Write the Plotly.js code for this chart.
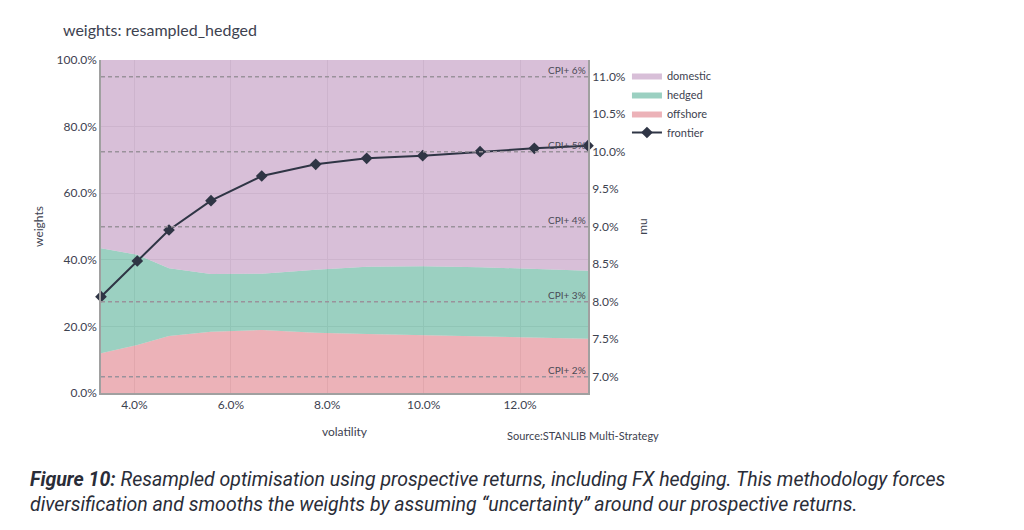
<!DOCTYPE html>
<html>
<head>
<meta charset="utf-8">
<script src="https://cdn.plot.ly/plotly-3.0.1.min.js"></script>
<style>
html,body{margin:0;padding:0;background:#fff;}
#chart{width:1024px;height:530px;}
</style>
</head>
<body>
<div id="chart"></div>
<script>
// volatility (fraction) for each frontier portfolio
const volatility = [0.03305, 0.04058, 0.04716, 0.05587, 0.0664, 0.0776, 0.08818, 0.0998, 0.1117, 0.12296, 0.1341];
// weights (fraction)
const offshore = [0.119, 0.144, 0.171, 0.184, 0.189, 0.181, 0.177, 0.174, 0.171, 0.168, 0.163];
const hedged   = [0.316, 0.271, 0.204, 0.173, 0.169, 0.189, 0.202, 0.207, 0.207, 0.204, 0.204];
const domestic = [0.565, 0.585, 0.625, 0.643, 0.642, 0.630, 0.621, 0.619, 0.622, 0.628, 0.633];
// expected return mu (fraction)
const frontier = [0.08067, 0.08543, 0.08956, 0.09347, 0.09676, 0.09832, 0.09912, 0.09947, 0.1000, 0.10045, 0.1008];
// CPI reference lines
const cpiLevels = [0.07, 0.08, 0.09, 0.10, 0.11];
const cpiLabels = ["CPI+ 2%", "CPI+ 3%", "CPI+ 4%", "CPI+ 5%", "CPI+ 6%"];
const xTicks = [0.04, 0.06, 0.08, 0.10, 0.12];

const FONT = "Lato, 'Open Sans', sans-serif";
const TXT = "#3d4250";

const traces = [
  {x: volatility, y: offshore, name: "offshore", type: "scatter", mode: "lines", stackgroup: "w",
   line: {width: 0, color: "rgba(223,127,137,0.6)"}, fillcolor: "rgba(223,127,137,0.6)", legendrank: 3},
  {x: volatility, y: hedged, name: "hedged", type: "scatter", mode: "lines", stackgroup: "w",
   line: {width: 0, color: "rgba(88,177,152,0.6)"}, fillcolor: "rgba(88,177,152,0.6)", legendrank: 2},
  {x: volatility, y: domestic, name: "domestic", type: "scatter", mode: "lines", stackgroup: "w",
   line: {width: 0, color: "rgba(190,148,190,0.6)"}, fillcolor: "rgba(190,148,190,0.6)", legendrank: 1},
  {x: volatility, y: frontier, name: "frontier", type: "scatter", mode: "lines+markers", yaxis: "y2",
   line: {width: 2, color: "#2f3545"}, marker: {symbol: "diamond", size: 9, color: "#2f3545"},
   cliponaxis: false, legendrank: 4}
];

const shapes = cpiLevels.map(v => ({
  type: "line", xref: "paper", x0: 0, x1: 1, yref: "y2", y0: v, y1: v,
  line: {color: "#9a929b", width: 1.5, dash: "4px,3px"}, layer: "above"
}));

const annotations = cpiLevels.map((v, i) => ({
  xref: "paper", x: 1, xanchor: "right", yref: "y2", y: v, yanchor: "bottom",
  text: cpiLabels[i], showarrow: false, yshift: -1,
  font: {family: FONT, size: 10, color: "#4a4a55"}
}));

annotations.push({
  xref: "paper", x: 0.8296, xanchor: "left", yref: "paper", y: -0.129, yanchor: "middle",
  text: "Source:STANLIB Multi-Strategy", showarrow: false,
  font: {family: FONT, size: 11, color: TXT}
});

annotations.push({
  xref: "paper", x: -0.1499, xanchor: "left", yref: "paper", y: -0.218, yanchor: "top",
  align: "left", showarrow: false,
  text: "<b><i>Figure 10:</i></b><i> Resampled optimisation using prospective returns, including FX hedging. This methodology forces</i><br><i>diversification and smooths the weights by assuming \u201cuncertainty\u201d around our prospective returns.</i>",
  font: {family: "Roboto, sans-serif", size: 19.5, color: "#2a2d38"}
});

const layout = {
  width: 1024, height: 530,
  margin: {l: 101, r: 436, t: 60, b: 137},
  paper_bgcolor: "#ffffff", plot_bgcolor: "#ffffff",
  font: {family: FONT, size: 11, color: TXT},
  title: {text: "weights: resampled_hedged", x: 0.0615, xanchor: "left", y: 0.943, yanchor: "middle",
          font: {family: FONT, size: 16, color: TXT}},
  showlegend: true,
  legend: {x: 1.08, xanchor: "left", y: 0.997, yanchor: "top", traceorder: "normal",
           font: {family: FONT, size: 11, color: TXT}, bgcolor: "rgba(0,0,0,0)"},
  xaxis: {range: [0.03305, 0.1341], tickvals: xTicks, tickformat: ".1%",
          tickfont: {size: 12},
          showgrid: true, gridcolor: "#e3e3e3", zeroline: false,
          showline: true, linecolor: "#a0a0a0", linewidth: 1.5, ticks: "",
          title: {text: "volatility", standoff: 16, font: {family: FONT, size: 12, color: TXT}}},
  yaxis: {range: [0, 1], dtick: 0.2, tickformat: ".1%",
          tickfont: {size: 12},
          showgrid: true, gridcolor: "#e3e3e3", zeroline: false,
          showline: true, linecolor: "#a0a0a0", linewidth: 1.5, ticks: "",
          title: {text: "weights", standoff: 10, font: {family: FONT, size: 12, color: TXT}}},
  yaxis2: {overlaying: "y", side: "right", range: [0.06783, 0.11223], dtick: 0.005, tickformat: ".1%",
           tickfont: {size: 12},
           showgrid: false, zeroline: false,
           showline: true, linecolor: "#a0a0a0", linewidth: 1.5, ticks: "",
           title: {text: "mu", standoff: 14, font: {family: FONT, size: 12, color: TXT}}},
  shapes: shapes,
  annotations: annotations
};

Plotly.newPlot("chart", traces, layout, {displayModeBar: false, responsive: false});
</script>
</body>
</html>
